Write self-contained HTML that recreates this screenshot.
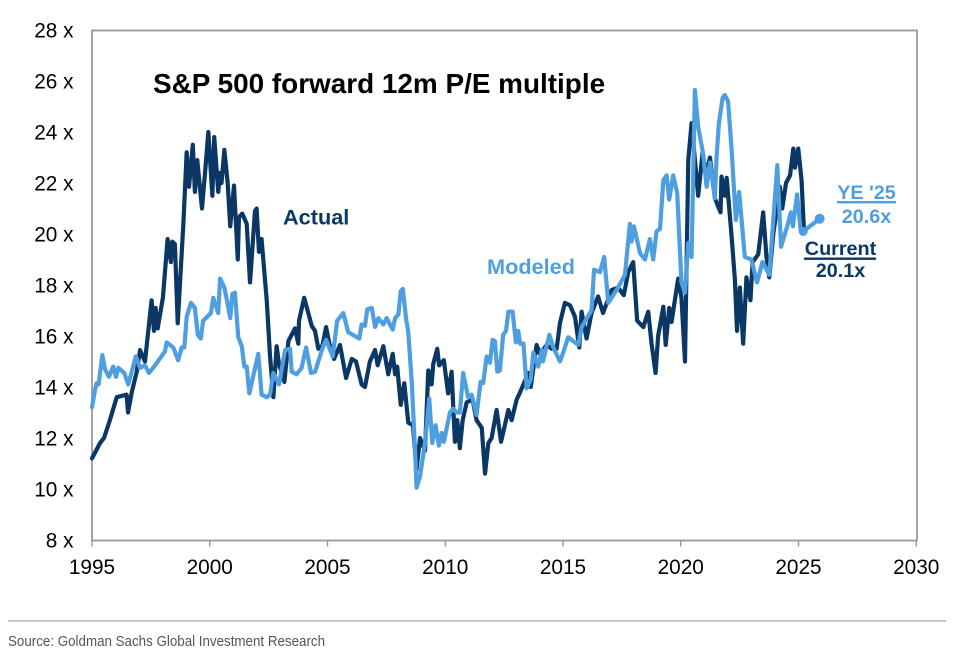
<!DOCTYPE html>
<html lang="en">
<head>
<meta charset="utf-8">
<title>S&amp;P 500 forward 12m P/E multiple</title>
<style>
html,body{margin:0;padding:0;background:#fff;}
svg{display:block;font-family:"Liberation Sans",sans-serif;}
</style>
</head>
<body>
<svg id="chart" width="958" height="655" viewBox="0 0 958 655" xmlns="http://www.w3.org/2000/svg">
  <rect x="92" y="30.5" width="825" height="510" fill="#fff" stroke="#9a9a9a" stroke-width="1.8"/>
  <g id="axes"></g>
  <g id="series"></g>
  <text x="153" y="93" font-size="27.9" font-weight="700" fill="#000">S&amp;P 500 forward 12m P/E multiple</text>
  <text x="283" y="224.5" font-size="21.7" font-weight="700" fill="#0a3764">Actual</text>
  <text x="487" y="274" font-size="21.7" font-weight="700" fill="#4f9fe0">Modeled</text>
  <text x="866.5" y="199" text-anchor="middle" font-size="19.8" font-weight="700" fill="#4f9fe0">YE '25</text>
  <rect x="837" y="201" width="59" height="2.4" fill="#4f9fe0"/>
  <text x="866.5" y="223" text-anchor="middle" font-size="19.8" font-weight="700" fill="#4f9fe0">20.6x</text>
  <text x="840.5" y="255" text-anchor="middle" font-size="19.8" font-weight="700" fill="#0a3764">Current</text>
  <rect x="804" y="257.5" width="72" height="2.4" fill="#0a3764"/>
  <text x="840.5" y="277" text-anchor="middle" font-size="19.8" font-weight="700" fill="#0a3764">20.1x</text>
  <rect x="8" y="620.2" width="938" height="1.5" fill="#b4b4b4"/>
  <text x="8" y="646" font-size="15" fill="#555" textLength="317" lengthAdjust="spacingAndGlyphs">Source: Goldman Sachs Global Investment Research</text>
</svg>
<script>
const xTickLabels = [1995, 2000, 2005, 2010, 2015, 2020, 2025, 2030];
const yTickLabels = [8, 10, 12, 14, 16, 18, 20, 22, 24, 26, 28];

const actualDates = [1995.00,1995.34,1995.51,1995.76,1996.05,1996.47,1996.53,1996.69,1996.90,1997.04,1997.25,1997.53,1997.63,1997.70,1997.79,1998.01,1998.21,1998.35,1998.41,1998.52,1998.64,1998.88,1999.02,1999.12,1999.28,1999.37,1999.47,1999.67,1999.80,1999.94,2000.11,2000.19,2000.36,2000.44,2000.50,2000.62,2000.76,2000.87,2001.03,2001.19,2001.24,2001.38,2001.57,2001.71,2001.92,2001.99,2002.09,2002.20,2002.42,2002.56,2002.70,2002.84,2002.94,2003.17,2003.34,2003.62,2003.76,2003.79,2004.01,2004.33,2004.47,2004.61,2004.78,2004.94,2005.08,2005.28,2005.53,2005.79,2006.03,2006.21,2006.45,2006.59,2006.80,2007.02,2007.13,2007.37,2007.58,2007.77,2007.87,2007.96,2008.11,2008.26,2008.43,2008.63,2008.78,2008.93,2009.14,2009.28,2009.42,2009.49,2009.66,2009.74,2009.94,2010.12,2010.27,2010.41,2010.51,2010.62,2010.74,2010.91,2011.16,2011.33,2011.55,2011.69,2011.83,2011.97,2012.18,2012.37,2012.68,2012.82,2013.03,2013.18,2013.53,2013.63,2013.88,2014.02,2014.31,2014.52,2014.73,2014.87,2015.08,2015.30,2015.51,2015.69,2015.79,2016.00,2016.21,2016.49,2016.70,2017.06,2017.34,2017.58,2017.77,2017.98,2018.15,2018.41,2018.62,2018.76,2018.93,2019.04,2019.26,2019.36,2019.51,2019.61,2019.89,2020.03,2020.18,2020.32,2020.46,2020.74,2020.93,2021.07,2021.24,2021.45,2021.69,2021.73,2021.87,2021.95,2022.16,2022.30,2022.39,2022.51,2022.65,2022.79,2022.96,2023.05,2023.29,2023.50,2023.64,2023.76,2023.93,2024.21,2024.31,2024.47,2024.64,2024.78,2024.85,2024.99,2025.13,2025.23];
const actualValues = [11.2,11.8,12.0,12.7,13.6,13.7,13.0,13.8,14.6,15.45,15.0,17.4,16.2,17.1,16.3,17.5,19.8,18.9,19.7,19.6,16.5,20.4,23.2,21.85,23.5,21.65,22.9,21.0,22.4,24.0,21.5,23.8,21.65,22.4,22.0,23.3,22.0,20.3,21.9,19.0,20.65,20.8,20.4,18.1,20.9,21.0,19.3,19.8,17.4,15.2,13.6,15.6,14.9,14.2,15.8,16.3,15.7,16.6,17.5,16.4,16.2,15.5,15.6,16.35,15.7,15.1,15.65,14.35,15.1,15.0,14.1,14.0,15.0,15.45,14.85,15.6,14.5,15.3,14.5,14.8,13.3,14.15,12.6,12.5,10.75,12.0,11.5,14.65,14.1,14.9,15.5,14.85,15.05,13.75,14.6,11.85,12.7,11.6,12.7,13.4,13.5,12.7,12.4,10.6,11.8,12.0,13.1,11.85,13.1,12.7,13.5,13.8,14.55,14.0,15.65,15.3,15.65,15.5,15.5,16.5,17.3,17.2,16.75,15.55,16.95,15.9,16.9,17.55,16.9,17.8,17.9,17.6,18.5,18.9,16.6,16.35,16.95,15.7,14.55,16.0,17.15,15.65,17.1,16.55,18.25,17.5,15.0,22.9,24.35,21.5,23.2,22.3,23.0,21.4,20.85,22.25,21.5,22.2,19.9,18.2,16.2,17.9,15.7,18.3,17.4,18.9,19.2,20.85,19.1,18.3,20.0,21.85,21.0,22.0,22.3,23.35,22.6,23.35,22.1,20.15];

const modeledDates = [1995.00,1995.13,1995.20,1995.28,1995.44,1995.55,1995.72,1995.90,1996.02,1996.12,1996.37,1996.54,1996.86,1997.04,1997.25,1997.42,1997.68,1998.10,1998.17,1998.45,1998.66,1998.81,1998.92,1999.02,1999.20,1999.37,1999.49,1999.62,1999.72,2000.05,2000.15,2000.36,2000.44,2000.62,2000.73,2000.87,2000.96,2001.07,2001.21,2001.36,2001.47,2001.57,2001.68,2002.06,2002.20,2002.42,2002.56,2002.70,2002.94,2003.20,2003.41,2003.48,2003.69,2003.90,2004.09,2004.30,2004.47,2004.78,2004.94,2005.22,2005.41,2005.67,2005.88,2006.35,2006.45,2006.59,2006.69,2006.88,2007.02,2007.16,2007.37,2007.51,2007.77,2007.87,2008.01,2008.11,2008.20,2008.34,2008.43,2008.58,2008.72,2008.78,2008.93,2009.14,2009.32,2009.45,2009.59,2009.73,2009.85,2009.94,2010.20,2010.34,2010.48,2010.62,2010.76,2010.97,2011.12,2011.33,2011.50,2011.61,2011.76,2011.90,2012.01,2012.11,2012.21,2012.32,2012.46,2012.58,2012.68,2012.86,2013.00,2013.10,2013.18,2013.32,2013.46,2013.63,2013.74,2013.95,2014.10,2014.15,2014.42,2014.59,2014.87,2015.01,2015.22,2015.65,2015.79,2016.21,2016.32,2016.57,2016.75,2016.92,2017.34,2017.63,2017.84,2017.91,2018.01,2018.27,2018.48,2018.69,2018.83,2018.97,2019.12,2019.26,2019.40,2019.51,2019.68,2019.85,2020.03,2020.18,2020.32,2020.46,2020.60,2020.74,2020.95,2021.10,2021.24,2021.45,2021.52,2021.62,2021.78,2021.87,2022.01,2022.16,2022.34,2022.48,2022.72,2023.00,2023.24,2023.47,2023.76,2023.93,2024.10,2024.26,2024.52,2024.68,2024.76,2024.94,2025.09,2025.20];
const modeledValues = [13.2,13.9,14.15,14.1,15.25,14.7,14.4,14.8,14.4,14.75,14.55,14.1,15.2,14.75,14.85,14.55,14.85,15.4,15.75,15.55,15.05,15.55,15.55,16.75,17.3,17.1,16.05,15.9,16.6,16.9,17.5,16.9,18.25,17.9,17.4,16.7,17.65,17.7,15.95,15.6,14.8,14.8,13.75,15.3,13.7,13.6,13.7,14.55,14.1,15.45,15.5,14.6,14.5,14.75,15.55,14.55,14.6,15.5,15.85,15.2,16.6,16.9,16.15,15.9,16.45,16.4,17.05,17.1,16.35,16.7,16.45,16.7,16.25,16.7,16.85,17.75,17.85,16.65,16.15,14.15,11.5,10.05,10.5,11.8,13.55,11.8,12.5,11.7,12.2,11.85,13.0,13.15,13.0,13.0,14.55,13.6,13.7,12.9,14.2,14.15,15.2,14.95,15.85,15.8,14.6,14.65,16.05,16.2,16.95,16.95,15.75,16.2,15.7,15.7,13.95,14.3,15.35,14.8,15.45,15.0,16.05,15.55,15.0,15.35,15.95,15.65,16.35,17.0,18.6,18.5,19.1,17.3,17.9,18.4,20.4,19.7,20.3,19.25,19.0,19.8,19.0,20.1,20.2,22.1,22.3,21.35,22.3,21.6,18.1,17.7,19.65,19.1,25.65,24.2,23.15,21.85,22.8,21.4,23.0,24.35,25.35,25.45,25.2,23.3,20.55,21.65,19.1,19.0,18.1,18.9,18.4,20.55,22.7,19.5,20.3,20.85,20.3,21.55,20.15,20.1];

const forecastDates = [2025.20, 2025.90];
const forecastValues = [20.1, 20.6];

const NS = 'http://www.w3.org/2000/svg';
function xScale(year) { return 92 + (year - 1995) * 23.55; }
function yScale(value) { return 540 - (value - 8) * 25.5; }
function make(tag, attrs, parent) {
  const el = document.createElementNS(NS, tag);
  for (const k in attrs) el.setAttribute(k, attrs[k]);
  parent.appendChild(el);
  return el;
}
const axes = document.getElementById('axes');
const series = document.getElementById('series');

xTickLabels.forEach(function (yr) {
  const x = xScale(yr);
  const tick = make('line', {x1: x, x2: x, y1: 540.5, y2: 546.5, stroke: '#9a9a9a', 'stroke-width': 1.4}, axes);
  
  
  const label = make('text', {x: x, y: 574, 'text-anchor': 'middle', 'font-size': 20.8, fill: '#000'}, axes);
  label.textContent = String(yr);
  
  
});

yTickLabels.forEach(function (v) {
  const label = make('text', {x: 73.5, y: yScale(v) + 7.5, 'text-anchor': 'end', 'font-size': 20.8, fill: '#000'}, axes);
  label.textContent = v + ' x';
  
  
});

function linePath(dates, values) {
  return dates.map(function (d, i) {
    return (i ? 'L' : 'M') + xScale(d).toFixed(2) + ' ' + yScale(values[i]).toFixed(2);
  }).join('');
}
function drawLine(dates, values, color, width) {
  return make('path', {d: linePath(dates, values), fill: 'none', stroke: color, 'stroke-width': width, 'stroke-linejoin': 'round', 'stroke-linecap': 'round'}, series);
}

const actualLine = drawLine(actualDates, actualValues, '#0a3764', 4.2);



const modeledLine = drawLine(modeledDates, modeledValues, '#4f9fe0', 4.2);



const forecastLine = drawLine(forecastDates, forecastValues, '#4f9fe0', 4.2);



forecastDates.forEach(function (d, i) {
  const dot = make('circle', {cx: xScale(d), cy: yScale(forecastValues[i]), r: i ? 5 : 4.5, fill: '#4f9fe0'}, series);
  
  
});
</script>
</body>
</html>
